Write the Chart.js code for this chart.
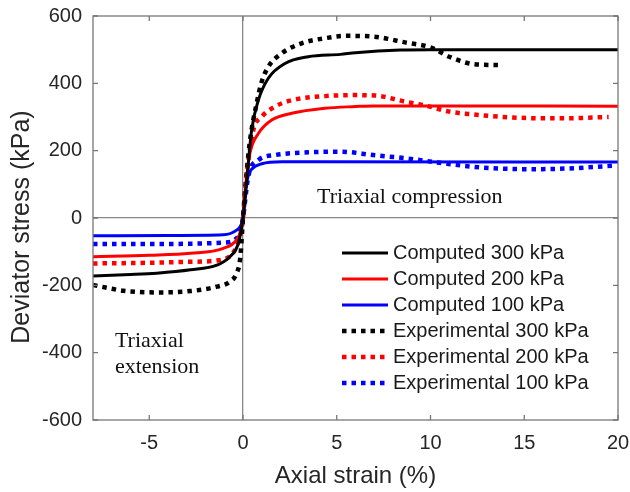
<!DOCTYPE html>
<html>
<head>
<meta charset="utf-8">
<script src="https://cdn.jsdelivr.net/npm/chart.js@4.4.1/dist/chart.umd.min.js"></script>
<style>
    body { margin: 0; background: #fff; }
    canvas { display: block; }
</style>
</head>
<body>
<canvas id="myChart" width="630" height="492"></canvas>
<script>
const xTicks = [-5, 0, 5, 10, 15, 20];
const yTicks = [-600, -400, -200, 0, 200, 400, 600];

// computed curves
const strainComp300 = [-8, -6, -4.6, -2.8, -1.4, -0.7, -0.25, 0, 0.2, 0.46, 0.82, 1.35, 2.24, 3.48, 5.2, 6.0, 8.4, 10, 20];
const stressComp300 = [-172, -168, -164, -154, -140, -115, -75, 0, 113, 261, 350, 415, 459, 479, 486, 491, 499, 500, 500];

const strainComp200 = [-8, -5, -2.8, -1.05, -0.34, -0.1, 0, 0.15, 0.37, 0.82, 1.53, 2.6, 4.37, 6, 7, 9, 20];
const stressComp200 = [-115, -111, -105, -90, -65, -35, 0, 100, 193, 251, 291, 311, 326, 331, 333, 333, 332];

const strainComp100 = [-8, -4, -1.05, -0.34, -0.1, 0, 0.15, 0.3, 0.46, 1.0, 2.06, 4, 20];
const stressComp100 = [-53, -52, -50, -36, -20, 0, 90, 130, 145, 161, 167, 167, 166];

// experimental curves
const strainExp300 = [-8, -7.1, -6.4, -4.6, -2.8, -1.4, -0.7, -0.34, -0.15, 0, 0.1, 0.35, 0.73, 1.0, 1.35, 2.06, 3.13, 4.37, 5.5, 6.9, 8.7, 10.0, 11.0, 12.3, 13.8];
const stressExp300 = [-199, -209, -216, -221, -217, -204, -189, -164, -120, 0, 74, 220, 341, 405, 449, 489, 519, 534, 541, 539, 521, 507, 479, 457, 454];

const strainExp200 = [-8, -5, -2.8, -1.05, -0.34, -0.1, 0, 0.2, 0.55, 1.0, 1.71, 2.6, 4.37, 6.0, 7.0, 8.7, 9.8, 11.0, 12.6, 14.6, 16.9, 19.5];
const stressExp200 = [-135, -133, -130, -123, -85, -40, 0, 130, 261, 301, 331, 350, 362, 365, 364, 345, 333, 316, 306, 298, 296, 300];

const strainExp100 = [-8, -4, -1.05, -0.34, -0.1, 0, 0.28, 0.82, 1.71, 3.48, 5.2, 6.95, 8.73, 10.5, 12.3, 14.1, 15.5, 17.3, 19.7];
const stressExp100 = [-77, -77, -73, -60, -30, 0, 123, 172, 187, 195, 197, 187, 177, 164, 152, 146, 145, 147, 155];

function pts(xs, ys) {
    return xs.map((x, i) => ({ x: x, y: ys[i] }));
}

const solid = { borderWidth: 3, borderDash: [] };
const dotted = { borderWidth: 4.5, borderDash: [4.5, 5] };

const datasets = [
    { label: 'Computed 300 kPa', data: pts(strainComp300, stressComp300), borderColor: '#000000', ...solid },
    { label: 'Computed 200 kPa', data: pts(strainComp200, stressComp200), borderColor: '#ff0000', ...solid },
    { label: 'Computed 100 kPa', data: pts(strainComp100, stressComp100), borderColor: '#0000ff', ...solid },
    { label: 'Experimental 300 kPa', data: pts(strainExp300, stressExp300), borderColor: '#000000', ...dotted },
    { label: 'Experimental 200 kPa', data: pts(strainExp200, stressExp200), borderColor: '#ff0000', ...dotted },
    { label: 'Experimental 100 kPa', data: pts(strainExp100, stressExp100), borderColor: '#0000ff', ...dotted }
];

// box, inward ticks, legend and the two notes
const frameAndNotes = {
    id: 'frameAndNotes',
    afterDraw(chart) {
        const ctx = chart.ctx;
        const a = chart.chartArea;
        const sx = chart.scales.x;
        const sy = chart.scales.y;
        ctx.save();

        ctx.strokeStyle = '#777';
        ctx.lineWidth = 1.3;
        ctx.strokeRect(a.left, a.top, a.right - a.left, a.bottom - a.top);
        ctx.beginPath();
        xTicks.forEach(v => {
            const px = sx.getPixelForValue(v);
            ctx.moveTo(px, a.bottom); ctx.lineTo(px, a.bottom - 5);
            ctx.moveTo(px, a.top); ctx.lineTo(px, a.top + 5);
        });
        yTicks.forEach(v => {
            const py = sy.getPixelForValue(v);
            ctx.moveTo(a.left, py); ctx.lineTo(a.left + 5, py);
            ctx.moveTo(a.right, py); ctx.lineTo(a.right - 5, py);
        });
        ctx.stroke();

        // legend
        ctx.font = '20px "Liberation Sans", Arial, sans-serif';
        ctx.textAlign = 'left';
        ctx.textBaseline = 'middle';
        chart.data.datasets.forEach((ds, i) => {
            const y = 253 + i * 26;
            ctx.strokeStyle = ds.borderColor;
            ctx.lineWidth = ds.borderWidth;
            ctx.setLineDash(ds.borderDash);
            ctx.beginPath();
            ctx.moveTo(342, y);
            ctx.lineTo(388, y);
            ctx.stroke();
            ctx.fillStyle = '#1a1a1a';
            ctx.fillText(ds.label, 393, y);
        });
        ctx.setLineDash([]);

        // notes
        ctx.font = '22px "Liberation Serif", "Times New Roman", serif';
        ctx.textBaseline = 'alphabetic';
        ctx.fillStyle = '#111';
        ctx.fillText('Triaxial compression', sx.getPixelForValue(3.95), sy.getPixelForValue(45));
        ctx.fillText('Triaxial', sx.getPixelForValue(-6.83), sy.getPixelForValue(-382));
        ctx.fillText('extension', sx.getPixelForValue(-6.83), sy.getPixelForValue(-460));

        // y axis title
        ctx.font = '25px "Liberation Sans", Arial, sans-serif';
        ctx.fillStyle = '#262626';
        ctx.textAlign = 'center';
        ctx.textBaseline = 'middle';
        ctx.translate(22, 227);
        ctx.rotate(-Math.PI / 2);
        ctx.fillText('Deviator stress (kPa)', 0, 0);
        ctx.restore();
    }
};

const zeroLine = ctx => (ctx.tick && ctx.tick.value === 0) ? '#888' : 'rgba(0,0,0,0)';

const config = {
    type: 'line',
    data: { datasets: datasets },
    options: {
        responsive: false,
        animation: false,
        layout: { padding: { top: 16, right: 12, left: 0, bottom: 0 } },
        elements: {
            point: { radius: 0 },
            line: { cubicInterpolationMode: 'monotone', borderCapStyle: 'butt', fill: false }
        },
        plugins: { legend: { display: false }, tooltip: { enabled: false } },
        scales: {
            x: {
                type: 'linear',
                min: -8,
                max: 20,
                afterBuildTicks: s => { s.ticks = xTicks.map(v => ({ value: v })); },
                afterFit: s => { s.height = 72; s.paddingLeft = 0; s.paddingRight = 0; },
                grid: { color: zeroLine, lineWidth: 1.3, drawTicks: false },
                border: { display: false },
                ticks: {
                    padding: 11,
                    color: '#262626',
                    font: { family: '"Liberation Sans", Arial, sans-serif', size: 20 }
                },
                title: {
                    display: true,
                    text: 'Axial strain (%)',
                    color: '#262626',
                    padding: { top: 0, bottom: 1 },
                    font: { family: '"Liberation Sans", Arial, sans-serif', size: 24 }
                }
            },
            y: {
                type: 'linear',
                min: -600,
                max: 600,
                afterBuildTicks: s => { s.ticks = yTicks.map(v => ({ value: v })); },
                afterFit: s => { s.width = 93; s.paddingTop = 0; s.paddingBottom = 0; },
                grid: { color: zeroLine, lineWidth: 1.3, drawTicks: false },
                border: { display: false },
                ticks: {
                    padding: 11,
                    color: '#262626',
                    font: { family: '"Liberation Sans", Arial, sans-serif', size: 20 }
                }
            }
        }
    },
    plugins: [frameAndNotes]
};

const myChart = new Chart(document.getElementById('myChart'), config);
</script>
</body>
</html>
